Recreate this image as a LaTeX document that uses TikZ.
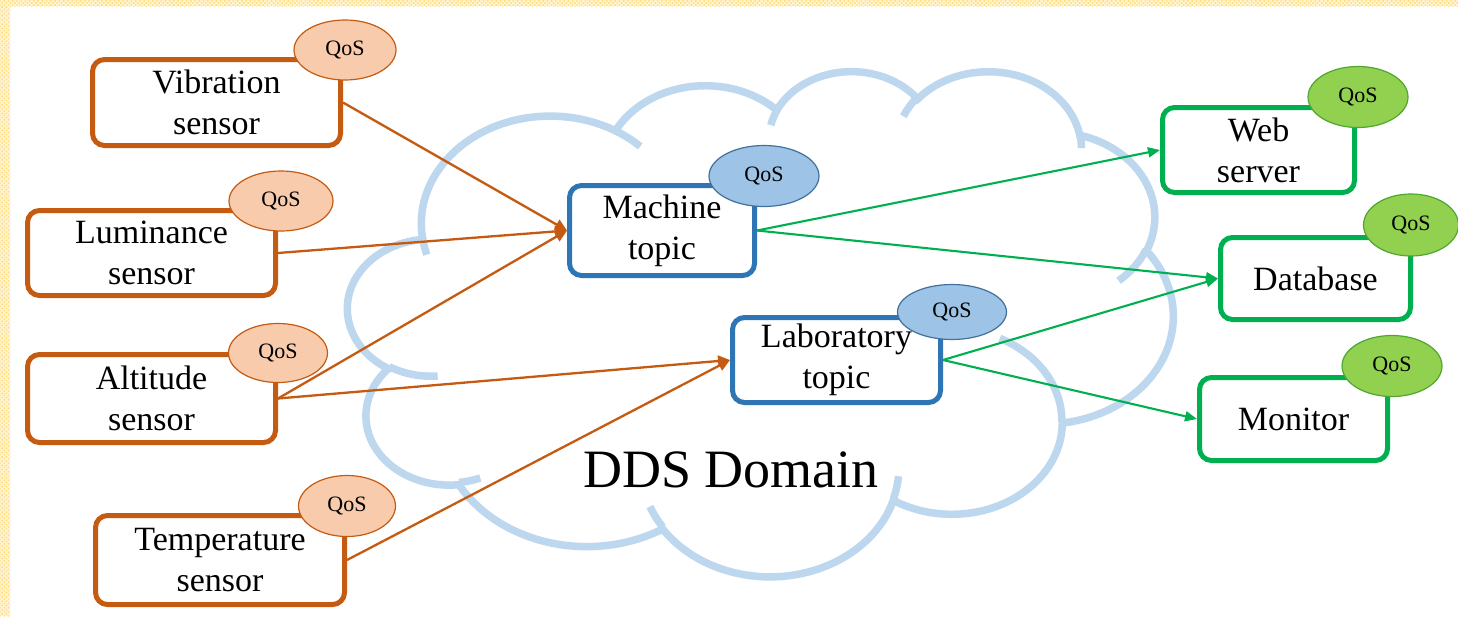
\documentclass[tikz,border=0pt]{standalone}
\usepackage{fontspec}
\setmainfont{Liberation Serif}
\usetikzlibrary{arrows.meta,shapes.geometric,patterns.meta}

\definecolor{srcline}{HTML}{C55A11}
\definecolor{srcfill}{HTML}{F8CBAD}
\definecolor{topline}{HTML}{2E75B6}
\definecolor{topfill}{HTML}{9DC3E6}
\definecolor{topedge}{HTML}{41719C}
\definecolor{sinkline}{HTML}{00B050}
\definecolor{sinkfill}{HTML}{92D050}
\definecolor{sinkedge}{HTML}{4EA72E}
\definecolor{cloudblue}{HTML}{BDD7EE}
\definecolor{edgeyellow}{HTML}{FFDC7A}
\definecolor{edgepale}{HTML}{FFF4CF}

% elliptic arc given as in a preset shape: radii, start angle, sweep (visual angles)
\tikzset{
  cloudarc/.style n args={4}{
    /utils/exec={%
      \pgfmathsetmacro\cas{atan2((#1)*sin(#3),(#2)*cos(#3))}%
      \pgfmathsetmacro\caeraw{atan2((#1)*sin((#3)+(#4)),(#2)*cos((#3)+(#4)))}%
      \pgfmathsetmacro\cad{\caeraw-\cas}%
      \pgfmathsetmacro\cad{\cad-360*round((\cad-(#4))/360)}%
      \pgfmathsetmacro\cae{\cas+\cad}%
    },
    start angle=\cas, end angle=\cae, x radius=#1, y radius=#2
  }
}

\begin{document}
\begin{tikzpicture}[x=1pt,y=-1pt,
  box/.style={draw, line width=5pt, rounded corners=12pt, fill=white,
    inner sep=0pt, align=center, text=black,
    font=\fontsize{34}{41}\selectfont},
  sensorbox/.style={box, draw=srcline},
  topicbox/.style={box, draw=topline},
  sinkbox/.style={box, draw=sinkline},
  qos/.style={ellipse, draw, line width=1.2pt, inner sep=0pt, text=black,
    font=\fontsize{22}{26}\selectfont},
  qossrc/.style={qos, fill=srcfill, draw=srcline},
  qostopic/.style={qos, fill=topfill, draw=topedge},
  qossink/.style={qos, fill=sinkfill, draw=sinkedge},
  feed/.style={draw=srcline, line width=2.3pt, -{Triangle[length=12pt,width=11pt]}},
  deliver/.style={draw=sinkline, line width=2.1pt, -{Triangle[length=12pt,width=10pt]}},
  strip/.style={fill=edgepale, postaction={pattern={Dots[distance=3pt,radius=1pt,angle=45]}, pattern color=edgeyellow}}
]
\useasboundingbox (0,0) rectangle (1458,616);
\fill[white] (0,0) rectangle (1458,616);

% dotted frame strips
\path[strip] (0,0) rectangle (1458,6);
\path[strip] (0,0) rectangle (10,616);

% the DDS domain cloud (preset cloud outline, units of 1/1000 of the shape box)
\begin{scope}[shift={(348pt,-70pt)}, x=19.097pt, y=-11.690pt]
  \draw[cloudblue, line width=7.5pt] (3.9,14.37)
    arc[cloudarc={6.753}{9.190}{-190.4875}{123.7805}]
    arc[cloudarc={5.333}{7.267}{-144.1024}{89.9452}]
    arc[cloudarc={4.365}{5.945}{-145.8079}{99.7230}]
    arc[cloudarc={4.857}{6.595}{-130.9861}{117.2417}]
    arc[cloudarc={5.333}{7.273}{-78.7089}{109.0269}]
    arc[cloudarc={6.775}{9.220}{-46.2673}{130.2690}]
    arc[cloudarc={5.785}{7.867}{0.6250}{114.0333}]
    arc[cloudarc={6.752}{9.215}{22.4516}{115.1726}]
    arc[cloudarc={7.720}{10.543}{66.2426}{75.7110}]
    arc[cloudarc={4.360}{5.918}{-274.9421}{146.7356}]
    arc[cloudarc={4.345}{5.945}{-246.8285}{152.5189}]
    -- cycle;
  \draw[cloudblue, line width=7.5pt]
    (4.693,26.177) arc[cloudarc={4.345}{5.945}{86.7420}{26.4295}]
    (6.928,34.899) arc[cloudarc={4.360}{5.918}{73.6105}{11.4475}]
    (16.478,39.090) arc[cloudarc={6.752}{9.215}{137.6242}{14.0811}]
    (28.827,34.751) arc[cloudarc={6.752}{9.215}{6.4533}{15.9984}]
    (34.129,22.954) arc[cloudarc={5.785}{7.867}{-70.2924}{70.9174}]
    (41.798,15.354) arc[cloudarc={5.333}{7.273}{30.3180}{27.7515}]
    (38.324,5.426) arc[cloudarc={4.857}{6.595}{-13.7443}{14.8589}]
    (29.078,3.952) arc[cloudarc={4.857}{6.595}{-149.1815}{18.1954}]
    (22.141,4.720) arc[cloudarc={4.365}{5.945}{-163.4943}{16.9586}]
    (14.000,5.192) arc[cloudarc={6.753}{9.190}{-66.7070}{12.3194}]
    (4.127,15.789) arc[cloudarc={6.753}{9.190}{157.6544}{11.8582}];
\end{scope}

\node[font=\fontsize{54}{60}\selectfont, anchor=base] (domain) at (731,487) {DDS Domain};

% publishers
\node[sensorbox, minimum width=248pt, minimum height=86pt] (vib) at (216.5,102.5) {Vibration\\sensor};
\node[sensorbox, minimum width=248pt, minimum height=85pt] (lum) at (151.5,253) {Luminance\\sensor};
\node[sensorbox, minimum width=248pt, minimum height=88pt] (alt) at (151.5,398.5) {Altitude\\sensor};
\node[sensorbox, minimum width=249pt, minimum height=89pt] (temp) at (220,560) {Temperature\\sensor};

% topics
\node[topicbox, minimum width=185pt, minimum height=90pt] (mach) at (662,230.5) {Machine\\topic};
\node[topicbox, minimum width=208pt, minimum height=85pt] (lab) at (836.5,360) {Laboratory\\topic};

% subscribers
\node[sinkbox, minimum width=192pt, minimum height=85pt] (web) at (1258.5,150) {Web\\server};
\node[sinkbox, minimum width=190pt, minimum height=82pt] (db) at (1315.5,278.5) {Database};
\node[sinkbox, minimum width=188pt, minimum height=83pt] (mon) at (1293.5,419) {Monitor};

% QoS policies
\node[qossrc, minimum width=102pt, minimum height=60pt] (vibq) at (345,50) {QoS};
\node[qossrc, minimum width=104pt, minimum height=60pt] (lumq) at (281,201) {QoS};
\node[qossrc, minimum width=99pt, minimum height=59pt] (altq) at (278,353) {QoS};
\node[qossrc, minimum width=97pt, minimum height=61pt] (tempq) at (347,506) {QoS};
\node[qostopic, minimum width=110pt, minimum height=61pt] (machq) at (764,176) {QoS};
\node[qostopic, minimum width=109pt, minimum height=55pt] (labq) at (952,312) {QoS};
\node[qossink, minimum width=100pt, minimum height=61pt] (webq) at (1358,97) {QoS};
\node[qossink, minimum width=95pt, minimum height=62pt] (dbq) at (1411,225) {QoS};
\node[qossink, minimum width=100pt, minimum height=61pt] (monq) at (1392,366) {QoS};

% data flow
\draw[feed] (vib.east) -- (mach.west);
\draw[feed] (lum.east) -- (mach.west);
\draw[feed] (alt.east) -- (mach.west);
\draw[feed] (alt.east) -- (lab.west);
\draw[feed] (temp.east) -- (lab.west);
\draw[deliver] (mach.east) -- (web.west);
\draw[deliver] (mach.east) -- (db.west);
\draw[deliver] (lab.east) -- (db.west);
\draw[deliver] (lab.east) -- (mon.west);
\end{tikzpicture}
\end{document}
